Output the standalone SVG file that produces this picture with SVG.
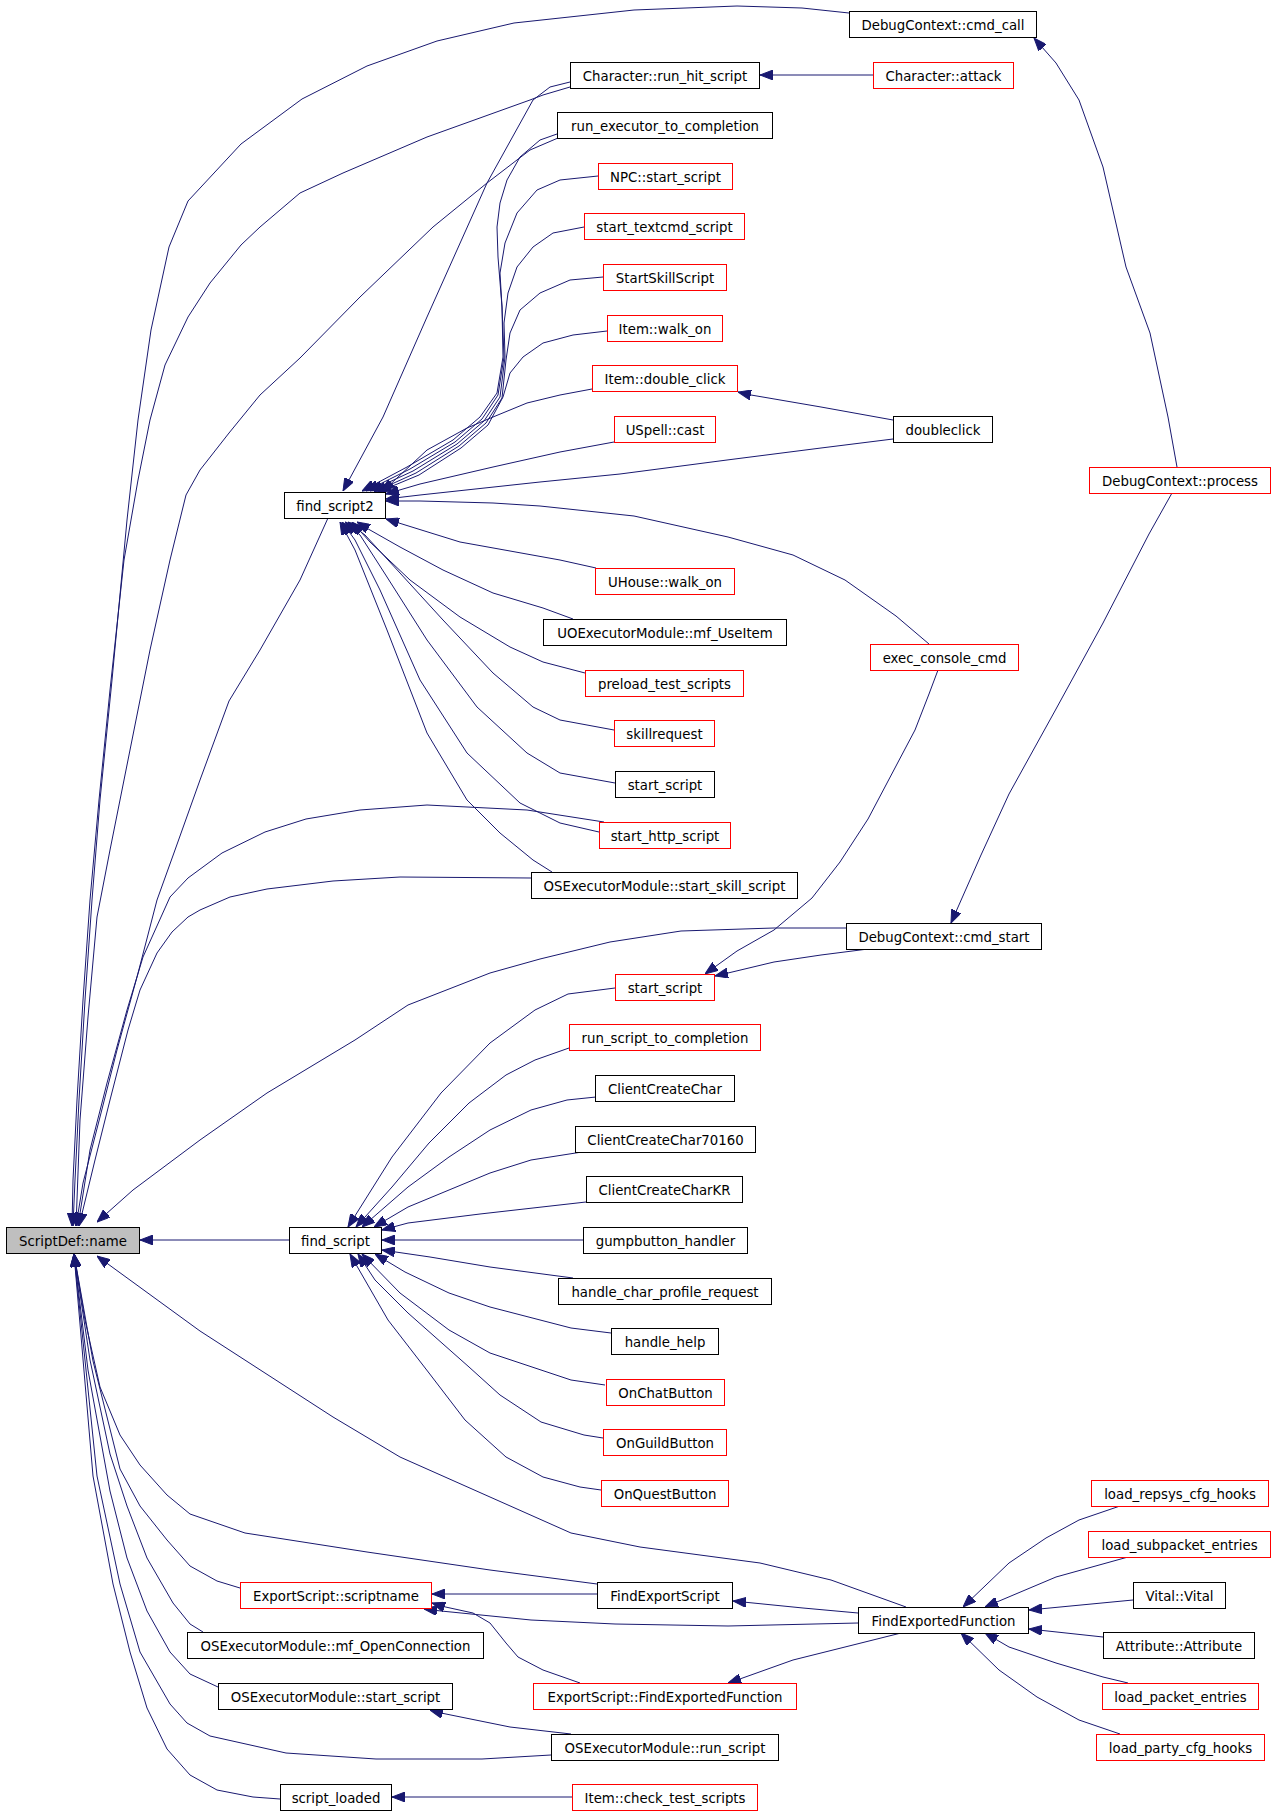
<svg xmlns="http://www.w3.org/2000/svg" width="1275" height="1815" viewBox="0 0 1275 1815">
<style>
.nd rect{fill:#ffffff;stroke:#000000;stroke-width:1}
.nd.r rect{stroke:#ff0000}
.nd.g rect{fill:#bfbfbf}
.nd text{font-family:"DejaVu Sans","Liberation Sans",sans-serif;font-size:13.3px;text-anchor:middle;fill:#000000}
#edges path{fill:none;stroke:#191970;stroke-width:1;marker-end:url(#ah)}
</style>
<defs>
<marker id="ah" viewBox="0 0 13 10" refX="13" refY="5" markerWidth="13" markerHeight="10" markerUnits="userSpaceOnUse" orient="auto">
<path d="M0,0 L13,5 L0,10 z" fill="#191970" stroke="#191970" stroke-width="1"/>
</marker>
</defs>
<rect width="1275" height="1815" fill="#ffffff"/>
<g id="edges">
<path d="M849,13 L802,8 L737,6 L634,10 L514,23 L437,41 L367,66 L302,99 L241,144 L188,201 L169,247 L151,330 L138,420 L127,520 L112,680 L100,800 L92,900 L85,1000 L79,1100 L75,1180 L73,1226"/>
<path d="M570,87 L543,95 L530,100 L427,137 L343,173 L300,193 L260,227 L241,245 L210,283 L188,317 L165,365 L150,420 L138,480 L124,560 L110,690 L99,800 L90,900 L83,1000 L77,1100 L73,1180 L72,1226"/>
<path d="M570,82 L550,87 L533,100 L487,183 L427,317 L383,417 L343,491"/>
<path d="M873,75 L760,75"/>
<path d="M558,138 L530,150 L487,183 L433,227 L360,297 L300,358 L260,395 L229,433 L200,470 L186,495 L170,560 L150,650 L130,750 L110,850 L97,917 L88,1017 L80,1120 L76,1226"/>
<path d="M557,134 L540,140 L520,157 L507,180 L500,203 L497,227 L498,257 L502,307 L503,357 L497,393 L480,417 L453,440 L407,467 L362,491"/>
<path d="M598,176 L560,180 L537,190 L517,213 L505,243 L500,273 L502,307 L504,357 L498,395 L482,419 L455,442 L410,469 L366,491"/>
<path d="M584,227 L553,233 L533,247 L517,267 L508,293 L504,323 L505,357 L500,397 L484,421 L457,444 L413,471 L370,491"/>
<path d="M603,277 L570,280 L540,293 L520,310 L510,333 L506,360 L502,398 L486,423 L459,446 L416,473 L374,492"/>
<path d="M607,331 L573,335 L543,343 L523,357 L510,373 L503,397 L488,425 L461,448 L419,475 L378,492"/>
<path d="M592,389 L560,395 L527,403 L493,417 L467,428 L427,450 L382,492"/>
<path d="M614,442 L560,452 L493,467 L420,484 L386,494"/>
<path d="M893,420 L821,407 L751,395 L738,392"/>
<path d="M893,439 L821,448 L727,460 L620,474 L540,482 L420,495 L386,499"/>
<path d="M929,644 L896,616 L845,580 L793,555 L728,537 L634,516 L540,506 L493,503 L420,501 L386,501"/>
<path d="M1177,467 L1168,417 L1150,333 L1126,267 L1103,167 L1079,100 L1056,63 L1034,38"/>
<path d="M1172,493 L1149,534 L1103,623 L1056,709 L1009,794 L981,855 L951,923"/>
<path d="M596,568 L560,560 L460,542 L386,519"/>
<path d="M573,619 L543,608 L493,593 L443,570 L400,547 L370,530 L357,522"/>
<path d="M585,673 L543,662 L510,647 L460,617 L410,580 L370,542 L352,522"/>
<path d="M614,730 L560,720 L533,707 L493,673 L443,620 L400,573 L365,535 L348,522"/>
<path d="M615,783 L560,773 L527,753 L477,707 L427,640 L387,577 L360,535 L345,522"/>
<path d="M599,832 L560,823 L520,803 L467,753 L420,680 L380,590 L355,540 L342,522"/>
<path d="M552,872 L533,860 L500,833 L467,800 L427,733 L387,630 L355,550 L340,522"/>
<path d="M328,518 L300,580 L260,650 L229,701 L200,780 L175,850 L157,900 L137,977 L117,1050 L100,1117 L83,1183 L76,1226"/>
<path d="M604,822 L527,810 L427,805 L360,810 L306,819 L265,832 L222,853 L188,878 L170,897 L143,957 L127,1010 L107,1083 L90,1150 L78,1226"/>
<path d="M531,878 L400,877 L333,881 L267,889 L230,897 L200,910 L188,917 L172,932 L157,953 L140,990 L128,1030 L110,1100 L95,1160 L79,1226"/>
<path d="M846,928 L774,928 L681,931 L610,942 L540,959 L490,973 L408,1005 L355,1040 L267,1093 L200,1140 L133,1190 L97,1222"/>
<path d="M868,949 L821,955 L774,962 L728,973 L715,976"/>
<path d="M938,670 L929,694 L915,730 L896,766 L868,819 L840,862 L812,898 L774,930 L737,951 L705,974"/>
<path d="M289,1240 L140,1240"/>
<path d="M615,988 L568,994 L535,1010 L490,1043 L441,1093 L392,1157 L348,1227"/>
<path d="M569,1048 L535,1060 L506,1075 L469,1103 L429,1143 L392,1187 L356,1227"/>
<path d="M596,1097 L567,1100 L531,1110 L490,1130 L449,1157 L408,1187 L362,1227"/>
<path d="M582,1152 L531,1160 L490,1173 L449,1190 L408,1207 L374,1227"/>
<path d="M586,1202 L480,1214 L408,1223 L382,1230"/>
<path d="M583,1240 L382,1240"/>
<path d="M573,1278 L490,1267 L430,1257 L382,1250"/>
<path d="M611,1333 L571,1328 L490,1307 L449,1293 L405,1272 L375,1254"/>
<path d="M605,1385 L571,1380 L490,1353 L449,1330 L400,1293 L362,1254"/>
<path d="M603,1438 L584,1435 L541,1422 L500,1395 L469,1367 L408,1313 L375,1280 L358,1254"/>
<path d="M601,1490 L580,1487 L543,1477 L506,1457 L465,1420 L429,1373 L388,1320 L350,1254"/>
<path d="M906,1607 L831,1580 L760,1563 L640,1547 L571,1533 L490,1497 L400,1457 L333,1417 L200,1331 L97,1256"/>
<path d="M597,1584 L490,1570 L367,1552 L245,1533 L190,1514 L167,1495 L140,1465 L120,1435 L100,1387 L85,1320 L74,1254"/>
<path d="M240,1588 L217,1581 L190,1566 L167,1540 L140,1506 L120,1469 L93,1361 L74,1254"/>
<path d="M203,1632 L190,1624 L173,1603 L147,1558 L127,1506 L110,1454 L90,1360 L74,1254"/>
<path d="M218,1687 L190,1674 L170,1652 L147,1611 L127,1558 L110,1491 L88,1370 L74,1254"/>
<path d="M551,1755 L482,1759 L376,1759 L286,1753 L210,1736 L187,1723 L170,1704 L140,1652 L120,1584 L97,1476 L74,1254"/>
<path d="M280,1799 L253,1797 L217,1790 L190,1775 L167,1749 L147,1708 L130,1652 L113,1584 L93,1476 L74,1254"/>
<path d="M597,1594 L432,1594"/>
<path d="M858,1623 L728,1626 L615,1624 L531,1620 L441,1611 L424,1609"/>
<path d="M580,1683 L543,1670 L518,1657 L506,1643 L490,1623 L473,1613 L441,1606 L432,1603"/>
<path d="M858,1613 L803,1608 L733,1601"/>
<path d="M901,1633 L821,1653 L793,1660 L737,1680 L728,1683"/>
<path d="M1120,1506 L1079,1520 L1046,1538 L1009,1563 L963,1607"/>
<path d="M1128,1557 L1056,1577 L985,1607"/>
<path d="M1133,1600 L1029,1610"/>
<path d="M1103,1637 L1029,1629"/>
<path d="M1128,1683 L1103,1677 L1056,1663 L1009,1647 L985,1633"/>
<path d="M1120,1734 L1079,1720 L1037,1697 L999,1670 L961,1633"/>
<path d="M571,1734 L510,1727 L441,1713 L430,1710"/>
<path d="M572,1797 L392,1797"/>
</g>
<g id="n1" class="nd"><rect x="849.5" y="11.5" width="187" height="26"/><text x="943" y="29.5">DebugContext::cmd_call</text></g>
<g id="n2" class="nd"><rect x="570.5" y="62.5" width="189" height="26"/><text x="665" y="80.5">Character::run_hit_script</text></g>
<g id="n3" class="nd r"><rect x="873.5" y="62.5" width="140" height="26"/><text x="943.5" y="80.5">Character::attack</text></g>
<g id="n4" class="nd"><rect x="557.5" y="112.5" width="215" height="26"/><text x="665" y="130.5">run_executor_to_completion</text></g>
<g id="n5" class="nd r"><rect x="598.5" y="163.5" width="134" height="26"/><text x="665.5" y="181.5">NPC::start_script</text></g>
<g id="n6" class="nd r"><rect x="584.5" y="213.5" width="160" height="26"/><text x="664.5" y="231.5">start_textcmd_script</text></g>
<g id="n7" class="nd r"><rect x="603.5" y="264.5" width="123" height="26"/><text x="665" y="282.5">StartSkillScript</text></g>
<g id="n8" class="nd r"><rect x="607.5" y="315.5" width="115" height="26"/><text x="665" y="333.5">Item::walk_on</text></g>
<g id="n9" class="nd r"><rect x="592.5" y="365.5" width="145" height="26"/><text x="665" y="383.5">Item::double_click</text></g>
<g id="n10" class="nd r"><rect x="614.5" y="416.5" width="101" height="26"/><text x="665" y="434.5">USpell::cast</text></g>
<g id="n11" class="nd"><rect x="893.5" y="416.5" width="99" height="26"/><text x="943" y="434.5">doubleclick</text></g>
<g id="n12" class="nd r"><rect x="1089.5" y="467.5" width="181" height="26"/><text x="1180" y="485.5">DebugContext::process</text></g>
<g id="n13" class="nd"><rect x="284.5" y="492.5" width="101" height="26"/><text x="335" y="510.5">find_script2</text></g>
<g id="n14" class="nd r"><rect x="595.5" y="568.5" width="139" height="26"/><text x="665" y="586.5">UHouse::walk_on</text></g>
<g id="n15" class="nd"><rect x="543.5" y="619.5" width="243" height="26"/><text x="665" y="637.5">UOExecutorModule::mf_UseItem</text></g>
<g id="n16" class="nd r"><rect x="870.5" y="644.5" width="148" height="26"/><text x="944.5" y="662.5">exec_console_cmd</text></g>
<g id="n17" class="nd r"><rect x="585.5" y="670.5" width="158" height="26"/><text x="664.5" y="688.5">preload_test_scripts</text></g>
<g id="n18" class="nd r"><rect x="614.5" y="720.5" width="100" height="26"/><text x="664.5" y="738.5">skillrequest</text></g>
<g id="n19" class="nd"><rect x="615.5" y="771.5" width="99" height="26"/><text x="665" y="789.5">start_script</text></g>
<g id="n20" class="nd r"><rect x="599.5" y="822.5" width="131" height="26"/><text x="665" y="840.5">start_http_script</text></g>
<g id="n21" class="nd"><rect x="531.5" y="872.5" width="266" height="26"/><text x="664.5" y="890.5">OSExecutorModule::start_skill_script</text></g>
<g id="n22" class="nd"><rect x="846.5" y="923.5" width="195" height="26"/><text x="944" y="941.5">DebugContext::cmd_start</text></g>
<g id="n23" class="nd r"><rect x="615.5" y="974.5" width="99" height="26"/><text x="665" y="992.5">start_script</text></g>
<g id="n24" class="nd r"><rect x="569.5" y="1024.5" width="191" height="26"/><text x="665" y="1042.5">run_script_to_completion</text></g>
<g id="n25" class="nd"><rect x="595.5" y="1075.5" width="139" height="26"/><text x="665" y="1093.5">ClientCreateChar</text></g>
<g id="n26" class="nd"><rect x="575.5" y="1126.5" width="180" height="26"/><text x="665.5" y="1144.5">ClientCreateChar70160</text></g>
<g id="n27" class="nd"><rect x="586.5" y="1176.5" width="156" height="26"/><text x="664.5" y="1194.5">ClientCreateCharKR</text></g>
<g id="n28" class="nd"><rect x="583.5" y="1227.5" width="164" height="26"/><text x="665.5" y="1245.5">gumpbutton_handler</text></g>
<g id="n29" class="nd"><rect x="558.5" y="1278.5" width="213" height="26"/><text x="665" y="1296.5">handle_char_profile_request</text></g>
<g id="n30" class="nd"><rect x="611.5" y="1328.5" width="107" height="26"/><text x="665" y="1346.5">handle_help</text></g>
<g id="n31" class="nd r"><rect x="606.5" y="1379.5" width="118" height="26"/><text x="665.5" y="1397.5">OnChatButton</text></g>
<g id="n32" class="nd r"><rect x="603.5" y="1429.5" width="123" height="26"/><text x="665" y="1447.5">OnGuildButton</text></g>
<g id="n33" class="nd r"><rect x="601.5" y="1480.5" width="127" height="26"/><text x="665" y="1498.5">OnQuestButton</text></g>
<g id="n34" class="nd r"><rect x="1091.5" y="1480.5" width="177" height="26"/><text x="1180" y="1498.5">load_repsys_cfg_hooks</text></g>
<g id="n35" class="nd r"><rect x="1088.5" y="1531.5" width="182" height="26"/><text x="1179.5" y="1549.5">load_subpacket_entries</text></g>
<g id="n36" class="nd"><rect x="1133.5" y="1582.5" width="92" height="26"/><text x="1179.5" y="1600.5">Vital::Vital</text></g>
<g id="n37" class="nd"><rect x="1103.5" y="1632.5" width="151" height="26"/><text x="1179" y="1650.5">Attribute::Attribute</text></g>
<g id="n38" class="nd r"><rect x="1102.5" y="1683.5" width="156" height="26"/><text x="1180.5" y="1701.5">load_packet_entries</text></g>
<g id="n39" class="nd r"><rect x="1096.5" y="1734.5" width="168" height="26"/><text x="1180.5" y="1752.5">load_party_cfg_hooks</text></g>
<g id="n40" class="nd"><rect x="858.5" y="1607.5" width="170" height="26"/><text x="943.5" y="1625.5">FindExportedFunction</text></g>
<g id="n41" class="nd"><rect x="597.5" y="1582.5" width="135" height="26"/><text x="665" y="1600.5">FindExportScript</text></g>
<g id="n42" class="nd r"><rect x="533.5" y="1683.5" width="263" height="26"/><text x="665" y="1701.5">ExportScript::FindExportedFunction</text></g>
<g id="n43" class="nd"><rect x="551.5" y="1734.5" width="227" height="26"/><text x="665" y="1752.5">OSExecutorModule::run_script</text></g>
<g id="n44" class="nd r"><rect x="572.5" y="1784.5" width="185" height="26"/><text x="665" y="1802.5">Item::check_test_scripts</text></g>
<g id="n45" class="nd r"><rect x="240.5" y="1582.5" width="191" height="26"/><text x="336" y="1600.5">ExportScript::scriptname</text></g>
<g id="n46" class="nd"><rect x="187.5" y="1632.5" width="296" height="26"/><text x="335.5" y="1650.5">OSExecutorModule::mf_OpenConnection</text></g>
<g id="n47" class="nd"><rect x="218.5" y="1683.5" width="234" height="26"/><text x="335.5" y="1701.5">OSExecutorModule::start_script</text></g>
<g id="n48" class="nd"><rect x="280.5" y="1784.5" width="111" height="26"/><text x="336" y="1802.5">script_loaded</text></g>
<g id="n49" class="nd"><rect x="289.5" y="1227.5" width="92" height="26"/><text x="335.5" y="1245.5">find_script</text></g>
<g id="n50" class="nd g"><rect x="6.5" y="1227.5" width="133" height="26"/><text x="73" y="1245.5">ScriptDef::name</text></g>
</svg>
